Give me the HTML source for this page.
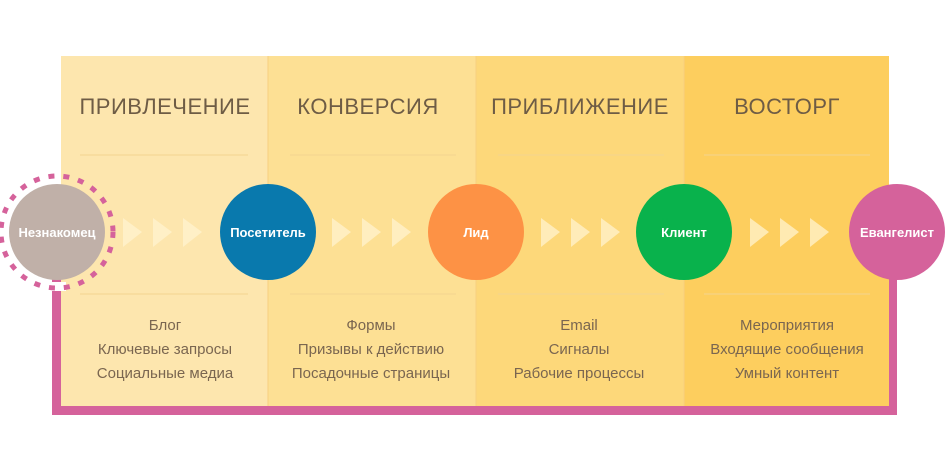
<!DOCTYPE html>
<html><head><meta charset="utf-8"><style>
html,body{margin:0;padding:0;background:#fff;width:945px;height:472px;overflow:hidden}
svg{display:block}
text{font-family:"Liberation Sans","DejaVu Sans",sans-serif}
</style></head><body>
<svg width="945" height="472" viewBox="0 0 945 472">
<rect x="52" y="275" width="845" height="140" fill="#d5629b"/>
<rect x="61" y="56" width="207" height="350" fill="#fde6ae"/>
<rect x="268" y="56" width="208" height="350" fill="#fde094"/>
<rect x="476" y="56" width="208" height="350" fill="#fdd87a"/>
<rect x="684" y="56" width="205" height="350" fill="#fdce5e"/>
<g stroke="#f6cf80" stroke-width="1">
<line x1="268" y1="56" x2="268" y2="406"/><line x1="476" y1="56" x2="476" y2="406"/><line x1="684" y1="56" x2="684" y2="406"/>
</g>
<g stroke="#f3d490" stroke-width="1">
<line x1="80" y1="155" x2="248" y2="155"/><line x1="290" y1="155" x2="456" y2="155"/><line x1="498" y1="155" x2="664" y2="155"/><line x1="704" y1="155" x2="870" y2="155"/>
<line x1="80" y1="294" x2="248" y2="294"/><line x1="290" y1="294" x2="456" y2="294"/><line x1="498" y1="294" x2="664" y2="294"/><line x1="704" y1="294" x2="870" y2="294"/>
</g>
<g font-size="22" fill="#6e5c45" text-anchor="middle" letter-spacing="0.5">
<text x="165" y="114">ПРИВЛЕЧЕНИЕ</text><text x="368" y="114">КОНВЕРСИЯ</text><text x="580" y="114">ПРИБЛИЖЕНИЕ</text><text x="787" y="114">ВОСТОРГ</text>
</g>
<g font-size="15" fill="#7a6650" text-anchor="middle">
<text x="165" y="330">Блог</text><text x="165" y="354">Ключевые запросы</text><text x="165" y="378">Социальные медиа</text>
<text x="371" y="330">Формы</text><text x="371" y="354">Призывы к действию</text><text x="371" y="378">Посадочные страницы</text>
<text x="579" y="330">Email</text><text x="579" y="354">Сигналы</text><text x="579" y="378">Рабочие процессы</text>
<text x="787" y="330">Мероприятия</text><text x="787" y="354">Входящие сообщения</text><text x="787" y="378">Умный контент</text>
</g>
<g fill="#fff3cf" fill-opacity="0.75">
<path d="M123 218 L142 232 L123 247 Z"/><path d="M153 218 L172 232 L153 247 Z"/><path d="M183 218 L202 232 L183 247 Z"/>
<path d="M332 218 L351 232 L332 247 Z"/><path d="M362 218 L381 232 L362 247 Z"/><path d="M392 218 L411 232 L392 247 Z"/>
<path d="M541 218 L560 232 L541 247 Z"/><path d="M571 218 L590 232 L571 247 Z"/><path d="M601 218 L620 232 L601 247 Z"/>
<path d="M750 218 L769 232 L750 247 Z"/><path d="M780 218 L799 232 L780 247 Z"/><path d="M810 218 L829 232 L810 247 Z"/>
</g>
<rect x="48" y="282" width="18" height="9" fill="#fff"/>
<circle cx="57" cy="232" r="56" fill="none" stroke="#d5629b" stroke-width="5" stroke-dasharray="6 9"/>
<circle cx="57" cy="232" r="48" fill="#c0b0a8"/>
<circle cx="268" cy="232" r="48" fill="#0979ad"/>
<circle cx="476" cy="232" r="48" fill="#fd9245"/>
<circle cx="684" cy="232" r="48" fill="#09b24c"/>
<circle cx="897" cy="232" r="48" fill="#d5629b"/>
<g font-size="13" font-weight="bold" fill="#fff" text-anchor="middle">
<text x="57" y="237">Незнакомец</text><text x="268" y="237">Посетитель</text><text x="476" y="237">Лид</text><text x="684" y="237">Клиент</text><text x="897" y="237">Евангелист</text>
</g>
</svg>
</body></html>
